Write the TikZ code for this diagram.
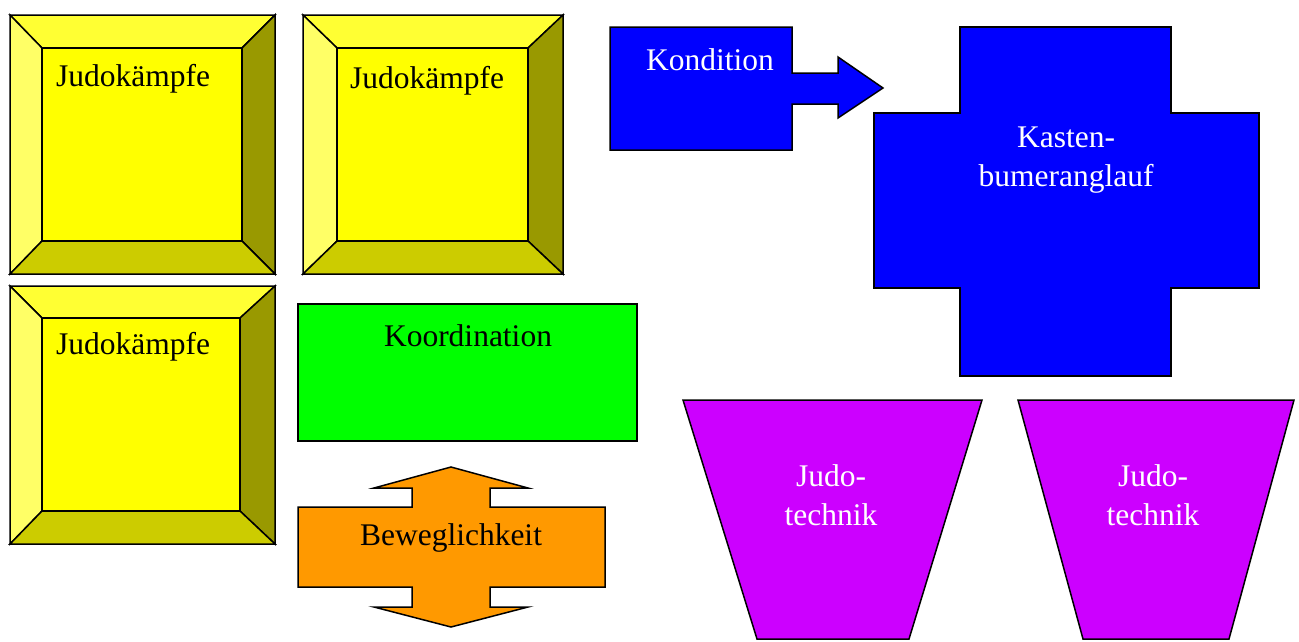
\documentclass[tikz,border=0pt]{standalone}
\usepackage{fontspec}
\setmainfont{Liberation Serif}
\definecolor{bvtop}{HTML}{FFFF33}
\definecolor{bvleft}{HTML}{FFFF66}
\definecolor{bvright}{HTML}{999900}
\definecolor{bvbottom}{HTML}{CCCC00}
\definecolor{bvface}{HTML}{FFFF00}
\definecolor{kblue}{HTML}{0000FF}
\definecolor{kgreen}{HTML}{00FF00}
\definecolor{korange}{HTML}{FF9900}
\definecolor{kpurple}{HTML}{CC00FF}
\newcommand\bevelbox[8]{%
  % #1,#2 outer top-left; #3,#4 outer bottom-right; #5,#6 inner top-left; #7,#8 inner bottom-right
  \filldraw[shp,fill=bvtop] (#1,#2) -- (#3,#2) -- (#7,#6) -- (#5,#6) -- cycle;
  \filldraw[shp,fill=bvleft] (#1,#2) -- (#5,#6) -- (#5,#8) -- (#1,#4) -- cycle;
  \filldraw[shp,fill=bvright] (#3,#2) -- (#3,#4) -- (#7,#8) -- (#7,#6) -- cycle;
  \filldraw[shp,fill=bvbottom] (#1,#4) -- (#5,#8) -- (#7,#8) -- (#3,#4) -- cycle;
  \filldraw[shp,fill=bvface] (#5,#6) rectangle (#7,#8);
}
\begin{document}
\begin{tikzpicture}[x=1pt,y=-1pt,
  shp/.style={draw=black,line width=1.5pt,line join=miter},
  lbl/.style={inner sep=0pt,font=\fontsize{31.5}{38.5}\selectfont,text=black},
  lblw/.style={lbl,text=white}]
\useasboundingbox (0,0) rectangle (1299,641);

% Judokaempfe bevels
\bevelbox{10}{15}{275}{274}{42}{48}{242}{241}
\bevelbox{303}{15}{563}{274}{337}{48}{528}{241}
\bevelbox{10}{286}{275}{544}{42}{318}{240}{511}
\node[lbl,anchor=base west] (j1) at (56,86) {Judokämpfe};
\node[lbl,anchor=base west] (j2) at (350,88) {Judokämpfe};
\node[lbl,anchor=base west] (j3) at (56,354) {Judokämpfe};

% Kondition arrow
\filldraw[shp,fill=kblue] (610,27) -- (792,27) -- (792,73) -- (838,73) -- (838,57)
  -- (883,88) -- (838,118) -- (838,104) -- (792,104) -- (792,150) -- (610,150) -- cycle;
\node[lblw,anchor=base] (kond) at (710,70) {Kondition};

% Cross
\filldraw[shp,fill=kblue] (960,27) -- (1171,27) -- (1171,113) -- (1259,113) -- (1259,288)
  -- (1171,288) -- (1171,376) -- (960,376) -- (960,288) -- (874,288) -- (874,113)
  -- (960,113) -- cycle;
\node[lblw,anchor=base,align=center] (kast) at (1066,186) {Kasten-\\bumeranglauf};

% Koordination
\filldraw[shp,fill=kgreen] (298,304) rectangle (637,441);
\node[lbl,anchor=base] (koord) at (468,346) {Koordination};

% Beweglichkeit
\filldraw[shp,fill=korange] (298,507) -- (412,507) -- (412,488) -- (374,488) -- (451,467)
  -- (528,488) -- (490,488) -- (490,507) -- (605,507) -- (605,587) -- (490,587)
  -- (490,607) -- (528,607) -- (451,627) -- (374,607) -- (412,607) -- (412,587)
  -- (298,587) -- cycle;
\node[lbl,anchor=base] (bew) at (451,545) {Beweglichkeit};

% Trapezoids
\filldraw[shp,fill=kpurple] (683,400) -- (982,400) -- (909,639) -- (757,639) -- cycle;
\filldraw[shp,fill=kpurple] (1018,400) -- (1294,400) -- (1229,639) -- (1083,639) -- cycle;
\node[lblw,anchor=base,align=center] (jt1) at (831,525) {Judo-\\technik};
\node[lblw,anchor=base,align=center] (jt2) at (1153,525) {Judo-\\technik};
\end{tikzpicture}
\end{document}
